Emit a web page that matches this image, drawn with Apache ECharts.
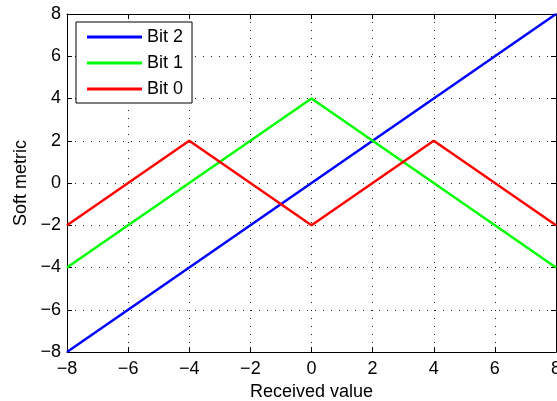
<!DOCTYPE html>
<html><head><meta charset="utf-8">
<script src="https://cdn.jsdelivr.net/npm/echarts@6/dist/echarts.min.js"></script>
<style>html,body{margin:0;padding:0;background:#fff}#c{width:557px;height:401px}</style>
</head><body><div id="c"></div>
<script>
const xTicks = [-8,-6,-4,-2,0,2,4,6,8];
const bit2X = [-8, 8];
const bit2Y = [-8, 8];
const bit1X = [-8, 0, 8];
const bit1Y = [-4, 4, -4];
const bit0X = [-8, -4, 0, 4, 8];
const bit0Y = [-2, 2, -2, 2, -2];
const seriesNames = ['Bit 2', 'Bit 1', 'Bit 0'];
const colors = ['#0000ff', '#00ff00', '#ff0000'];

const font = '"Liberation Sans", Arial, Helvetica, sans-serif';
const FS = 18;
const zip = (a, b) => a.map((v, i) => [v, b[i]]);
const fmt = v => (v < 0 ? '\u2212' + Math.abs(v) : String(v));
const gridLine = { show: true, lineStyle: { color: '#222', type: [1, 7], width: 1 } };
const baseAxis = {
  type: 'value', min: -8, max: 8, interval: 2,
  axisLine: { show: true, onZero: false, lineStyle: { color: '#000', width: 1 } },
  axisTick: { show: true, inside: true, length: 5, lineStyle: { color: '#000' } },
  splitLine: { show: false }
};
const chart = echarts.init(document.getElementById('c'));
chart.setOption({
  animation: false,
  textStyle: { fontFamily: font },
  grid: { left: 67, right: 1, top: 14, bottom: 49, containLabel: false, outerBoundsMode: 'none' },
  xAxis: [
    Object.assign({}, baseAxis, {
      position: 'bottom',
      splitLine: gridLine,
      axisLabel: { color: '#000', fontSize: FS, fontFamily: font, margin: 8, formatter: fmt },
      name: 'Received value', nameLocation: 'middle', nameGap: 30,
      nameTextStyle: { color: '#000', fontSize: FS, fontFamily: font }
    }),
    Object.assign({}, baseAxis, { position: 'top', axisLabel: { show: false } })
  ],
  yAxis: [
    Object.assign({}, baseAxis, {
      position: 'left',
      splitLine: gridLine,
      axisLabel: { color: '#000', fontSize: FS, fontFamily: font, margin: 6, formatter: fmt },
      name: 'Soft metric', nameLocation: 'middle', nameGap: 34,
      nameTextStyle: { color: '#000', fontSize: FS, fontFamily: font }
    }),
    Object.assign({}, baseAxis, { position: 'right', axisLabel: { show: false } })
  ],
  legend: {
    orient: 'vertical', left: 76, top: 22,
    backgroundColor: '#fff', borderColor: '#000', borderWidth: 1,
    padding: [6, 9, 5, 11], itemGap: 8,
    itemWidth: 55, itemHeight: 3, icon: 'rect',
    textStyle: { color: '#000', fontSize: FS, fontFamily: font, lineHeight: 16, padding: [0,0,0,0] },
    data: seriesNames
  },
  series: [
    { name: seriesNames[0], type: 'line', data: zip(bit2X, bit2Y) },
    { name: seriesNames[1], type: 'line', data: zip(bit1X, bit1Y) },
    { name: seriesNames[2], type: 'line', data: zip(bit0X, bit0Y) }
  ].map((s, i) => Object.assign(s, {
    color: colors[i], showSymbol: false, symbol: 'none', z: 3,
    lineStyle: { width: 2.5, color: colors[i] }
  }))
});
</script></body></html>
